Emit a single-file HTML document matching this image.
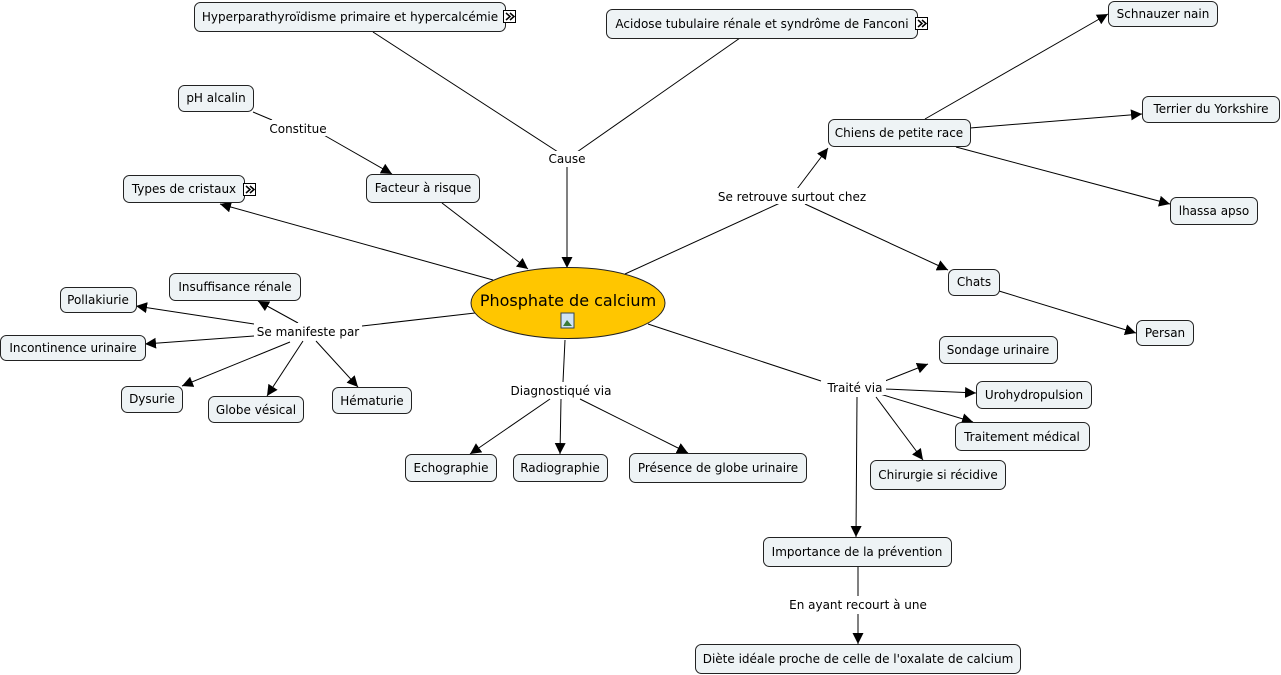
<!DOCTYPE html>
<html><head><meta charset="utf-8"><style>
html,body{margin:0;padding:0;background:#fff;width:1281px;height:675px;overflow:hidden}
svg text{font-family:"DejaVu Sans","Liberation Sans",sans-serif;font-size:12px;fill:#000}
.n{fill:#eef3f5;stroke:#222;stroke-width:1}
.l{stroke:#000;stroke-width:1;fill:none}
.a{stroke:#000;stroke-width:1;fill:none;marker-end:url(#ar)}
</style></head><body>
<svg width="1281" height="675" viewBox="0 0 1281 675" xmlns="http://www.w3.org/2000/svg">
<defs><marker id="ar" viewBox="0 0 10 10" refX="10" refY="5" markerWidth="11" markerHeight="11" markerUnits="userSpaceOnUse" orient="auto"><path d="M0,0 L10,5 L0,10 z" fill="#000"/></marker></defs>

<line class="l" x1="373" y1="32" x2="558" y2="152"/>
<line class="l" x1="740" y1="38" x2="577" y2="152"/>
<line class="a" x1="567" y1="166" x2="567" y2="268"/>
<line class="l" x1="253" y1="112" x2="272" y2="120"/>
<line class="a" x1="322" y1="134" x2="392" y2="174"/>
<line class="a" x1="442" y1="203" x2="528" y2="269"/>
<line class="a" x1="493" y1="280" x2="220" y2="204"/>
<line class="l" x1="625" y1="274" x2="780" y2="203"/>
<line class="a" x1="797" y1="189" x2="828" y2="148"/>
<line class="a" x1="805" y1="204" x2="948" y2="270"/>
<line class="a" x1="925" y1="119" x2="1108" y2="14"/>
<line class="a" x1="970" y1="128" x2="1142" y2="114"/>
<line class="a" x1="956" y1="147" x2="1170" y2="204"/>
<line class="a" x1="999" y1="291" x2="1136" y2="333"/>
<line class="l" x1="475" y1="313" x2="362" y2="326"/>
<line class="a" x1="298" y1="323" x2="258" y2="301"/>
<line class="a" x1="254" y1="324" x2="136" y2="306"/>
<line class="a" x1="254" y1="336" x2="145" y2="344"/>
<line class="a" x1="290" y1="342" x2="182" y2="386"/>
<line class="a" x1="303" y1="341" x2="267" y2="396"/>
<line class="a" x1="316" y1="341" x2="358" y2="387"/>
<line class="l" x1="565" y1="340" x2="563" y2="382"/>
<line class="a" x1="550" y1="399" x2="470" y2="454"/>
<line class="a" x1="561" y1="399" x2="560" y2="454"/>
<line class="a" x1="580" y1="399" x2="688" y2="453"/>
<line class="l" x1="648" y1="324" x2="821" y2="381"/>
<line class="a" x1="885" y1="381" x2="928" y2="364"/>
<line class="a" x1="885" y1="389" x2="976" y2="393"/>
<line class="a" x1="880" y1="394" x2="973" y2="422"/>
<line class="a" x1="876" y1="397" x2="923" y2="460"/>
<line class="a" x1="857" y1="397" x2="856" y2="537"/>
<line class="l" x1="858" y1="567" x2="858" y2="596"/>
<line class="a" x1="858" y1="614" x2="858" y2="644"/>

<g text-anchor="middle">
<rect x="266" y="120" width="64" height="16" fill="#fff"/><text x="298" y="133">Constitue</text>
<rect x="546" y="151" width="42" height="16" fill="#fff"/><text x="567" y="163">Cause</text>
<rect x="714" y="188" width="156" height="16" fill="#fff"/><text x="792" y="201">Se retrouve surtout chez</text>
<rect x="254" y="323" width="108" height="16" fill="#fff"/><text x="308" y="336">Se manifeste par</text>
<rect x="508" y="382" width="106" height="16" fill="#fff"/><text x="561" y="395">Diagnostiqué via</text>
<rect x="824" y="379" width="62" height="16" fill="#fff"/><text x="855" y="392">Traité via</text>
<rect x="786" y="596" width="144" height="16" fill="#fff"/><text x="858" y="609">En ayant recourt à une</text>
</g>

<ellipse cx="568" cy="303" rx="97" ry="35.5" fill="#ffc600" stroke="#222"/>
<text x="568" y="306" text-anchor="middle" style="font-size:16px">Phosphate de calcium</text>
<rect x="561" y="313" width="13" height="15" fill="#cfe3f5" stroke="#345" stroke-width="1"/>
<path d="M563,326 L567,320 L572,326 z" fill="#3a7a3a"/>

<g text-anchor="middle">
<rect class="n" x="194.5" y="2.5" width="311" height="29" rx="6"/><text x="350" y="21">Hyperparathyroïdisme primaire et hypercalcémie</text>
<rect class="n" x="606.5" y="9.5" width="311" height="29" rx="6"/><text x="762" y="28">Acidose tubulaire rénale et syndrôme de Fanconi</text>
<rect class="n" x="1108.5" y="1.5" width="109" height="25" rx="6"/><text x="1163" y="18">Schnauzer nain</text>
<rect class="n" x="178.5" y="85.5" width="75" height="26" rx="6"/><text x="216" y="102">pH alcalin</text>
<rect class="n" x="828.5" y="119.5" width="142" height="27" rx="6"/><text x="899" y="137">Chiens de petite race</text>
<rect class="n" x="1142.5" y="96.5" width="137" height="26" rx="6"/><text x="1211" y="113">Terrier du Yorkshire</text>
<rect class="n" x="123.5" y="175.5" width="121" height="27" rx="6"/><text x="184" y="193">Types de cristaux</text>
<rect class="n" x="366.5" y="174.5" width="113" height="28" rx="6"/><text x="423" y="192">Facteur à risque</text>
<rect class="n" x="1170.5" y="197.5" width="87" height="27" rx="6"/><text x="1214" y="215">lhassa apso</text>
<rect class="n" x="169.5" y="273.5" width="131" height="27" rx="6"/><text x="235" y="291">Insuffisance rénale</text>
<rect class="n" x="948.5" y="269.5" width="51" height="26" rx="6"/><text x="974" y="286">Chats</text>
<rect class="n" x="60.5" y="287.5" width="76" height="25" rx="6"/><text x="98" y="304">Pollakiurie</text>
<rect class="n" x="0.5" y="335.5" width="145" height="25" rx="6"/><text x="73" y="352">Incontinence urinaire</text>
<rect class="n" x="1136.5" y="320.5" width="57" height="25" rx="6"/><text x="1165" y="337">Persan</text>
<rect class="n" x="939.5" y="336.5" width="118" height="27" rx="6"/><text x="998" y="354">Sondage urinaire</text>
<rect class="n" x="121.5" y="386.5" width="61" height="26" rx="6"/><text x="152" y="403">Dysurie</text>
<rect class="n" x="976.5" y="381.5" width="115" height="27" rx="6"/><text x="1034" y="399">Urohydropulsion</text>
<rect class="n" x="208.5" y="396.5" width="95" height="26" rx="6"/><text x="256" y="414">Globe vésical</text>
<rect class="n" x="332.5" y="387.5" width="79" height="26" rx="6"/><text x="372" y="405">Hématurie</text>
<rect class="n" x="955.5" y="422.5" width="134" height="28" rx="6"/><text x="1022" y="441">Traitement médical</text>
<rect class="n" x="405.5" y="454.5" width="91" height="27" rx="6"/><text x="451" y="472">Echographie</text>
<rect class="n" x="513.5" y="454.5" width="94" height="27" rx="6"/><text x="560" y="472">Radiographie</text>
<rect class="n" x="629.5" y="453.5" width="177" height="29" rx="6"/><text x="718" y="472">Présence de globe urinaire</text>
<rect class="n" x="870.5" y="460.5" width="135" height="29" rx="6"/><text x="938" y="479">Chirurgie si récidive</text>
<rect class="n" x="763.5" y="537.5" width="188" height="29" rx="6"/><text x="857" y="556">Importance de la prévention</text>
<rect class="n" x="695.5" y="644.5" width="325" height="29" rx="6"/><text x="858" y="663">Diète idéale proche de celle de l'oxalate de calcium</text>
</g>

<g fill="#fff" stroke="#000" stroke-width="1">
<rect x="503.5" y="10.5" width="12" height="12"/>
<rect x="915.5" y="17.5" width="12" height="12"/>
<rect x="243.5" y="183.5" width="12" height="12"/>
</g>
<g fill="none" stroke="#000" stroke-width="1.5">
<path d="M506,13 L510,16.5 L506,20 M510,13 L514,16.5 L510,20"/>
<path d="M918,20 L922,23.5 L918,27 M922,20 L926,23.5 L922,27"/>
<path d="M246,186 L250,189.5 L246,193 M250,186 L254,189.5 L250,193"/>
</g>
</svg>
</body></html>
